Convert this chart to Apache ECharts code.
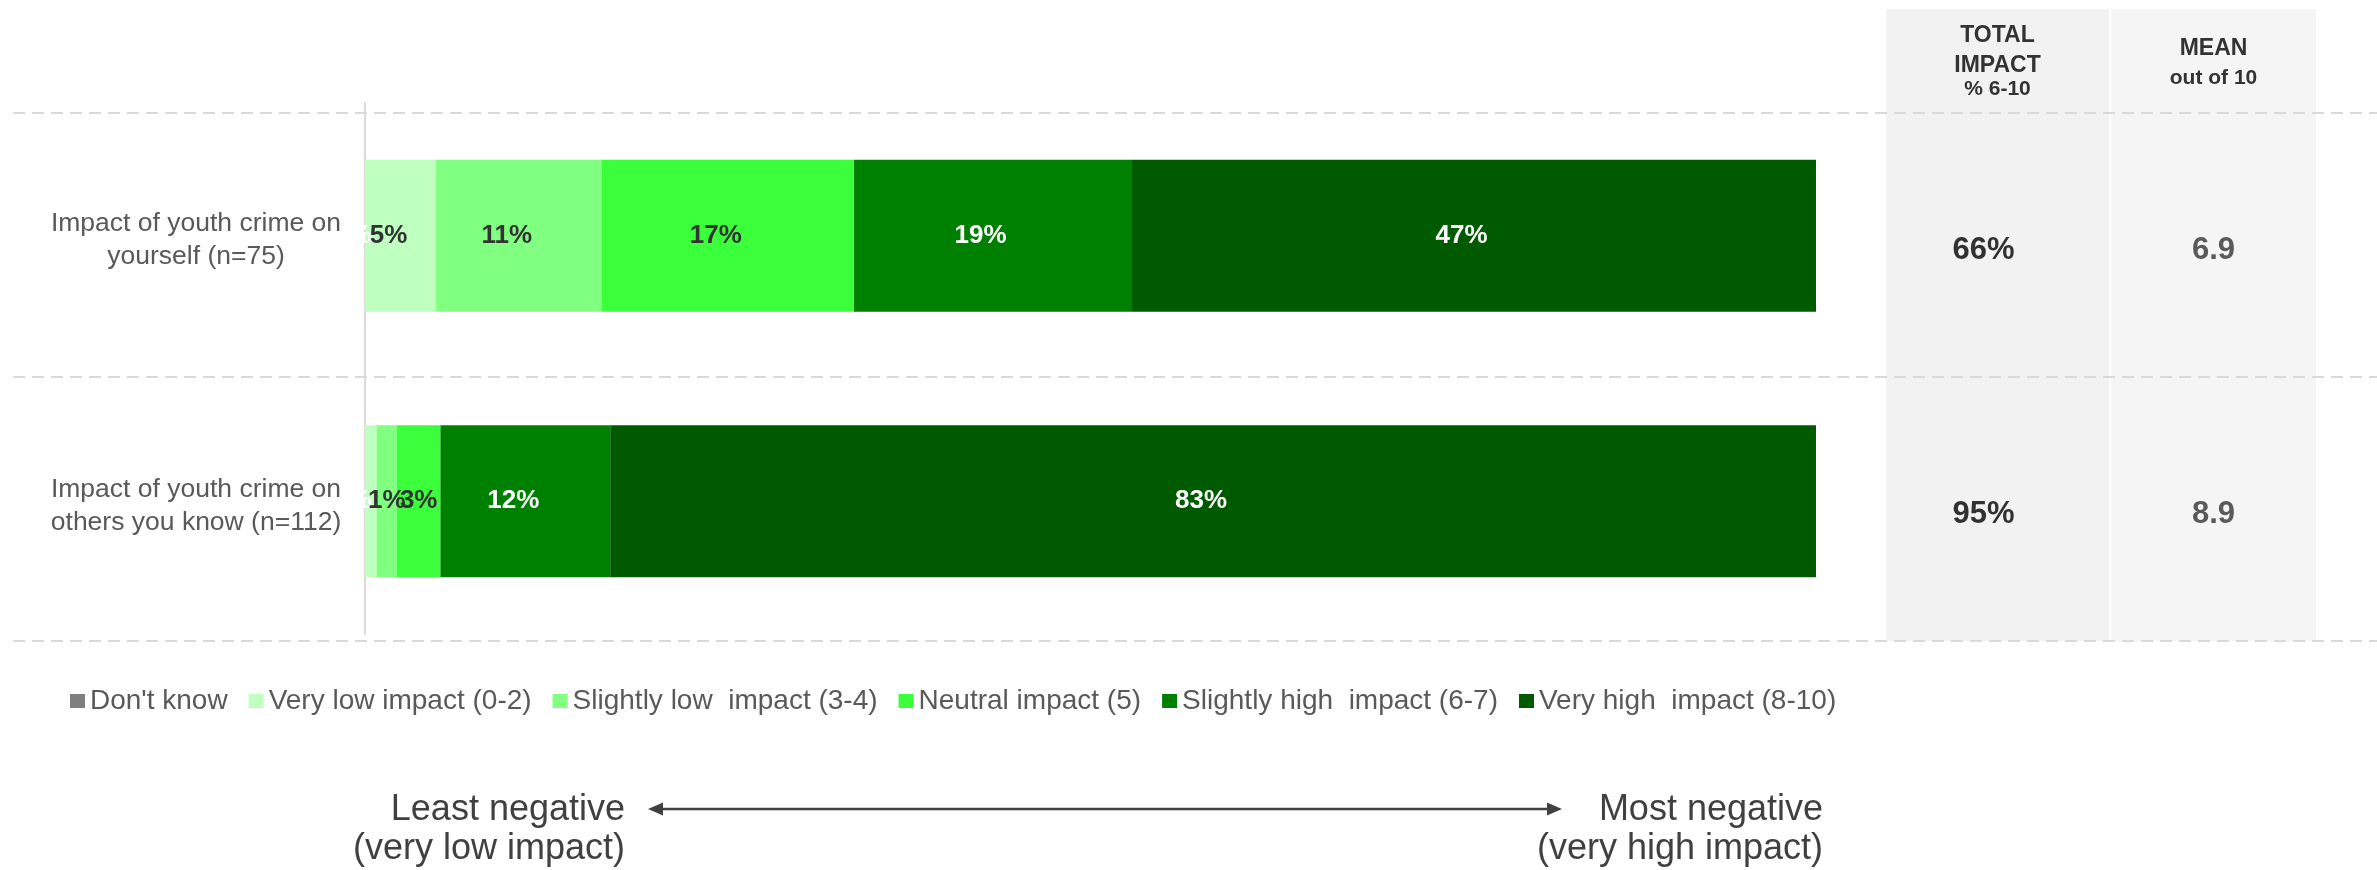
<!DOCTYPE html>
<html><head><meta charset="utf-8">
<script src="https://cdn.jsdelivr.net/npm/echarts@6/dist/echarts.min.js"></script>
<style>html,body{margin:0;padding:0;background:#fff}#c{width:2377px;height:870px}</style>
</head><body><div id="c"></div>
<script>
// ---- data ----
const categories = ['Impact of youth crime on\nyourself (n=75)', 'Impact of youth crime on\nothers you know (n=112)'];
const seriesNames = ["Don't know", 'Very low impact (0-2)', 'Slightly low  impact (3-4)', 'Neutral impact (5)', 'Slightly high  impact (6-7)', 'Very high  impact (8-10)'];
const dontKnow = [0, 0];
const veryLow = [4.9, 0.8];
const slightlyLow = [11.4, 1.4];
const neutral = [17.4, 3.0];
const slightlyHigh = [19.1, 11.7];
const veryHigh = [47.2, 83.1];
const tableColumns = ['TOTAL IMPACT', 'MEAN'];
const totalImpact = [66, 95];
const meanScore = [6.9, 8.9];

// ---- styles ----
const FONT = 'Liberation Sans, Arial, Helvetica, sans-serif';
const colors = ['#7f7f7f', '#bfffbf', '#80ff80', '#3cff3c', '#008000', '#005a00'];
const labelColors = ['#ffffff', '#333333', '#333333', '#333333', '#ffffff', '#ffffff'];
const values = [dontKnow, veryLow, slightlyLow, neutral, slightlyHigh, veryHigh];

const barSeries = seriesNames.map((name, s) => ({
  name, type: 'bar', stack: 'total', xAxisIndex: 0, yAxisIndex: 0, barWidth: 152,
  itemStyle: { color: colors[s] },
  emphasis: { disabled: true },
  label: {
    show: true, position: 'inside', offset: [-12, 0], color: labelColors[s],
    fontSize: 26, fontWeight: 'bold', fontFamily: FONT,
    formatter: p => Math.round(p.value) + '%'
  },
  data: values[s].map((v, i) => {
    const item = { value: v };
    if (i === 1 && s === 1) item.label = { show: false };
    if (i === 1 && (s === 2 || s === 3)) item.label = { offset: [0, 0] };
    return item;
  })
}));

const tableSeries = [
  {
    type: 'scatter', xAxisIndex: 4, yAxisIndex: 4, symbolSize: 0, silent: true,
    data: categories.map((c, i) => [tableColumns[0], c, totalImpact[i]]),
    label: { show: true, position: 'inside', offset: [-10, 5], formatter: p => p.value[2] + '%',
      fontSize: 31, fontWeight: 'bold', color: '#000000', fontFamily: FONT }
  },
  {
    type: 'scatter', xAxisIndex: 4, yAxisIndex: 4, symbolSize: 0, silent: true,
    data: categories.map((c, i) => [tableColumns[1], c, meanScore[i]]),
    label: { show: true, position: 'inside', offset: [5, 5], formatter: p => p.value[2].toFixed(1),
      fontSize: 31, fontWeight: 'bold', color: '#333333', fontFamily: FONT }
  }
];

const hidden = { show: false };
const option = {
  animation: false,
  backgroundColor: '#ffffff',
  grid: [
    { left: 365, right: 561, top: 103, bottom: 236 },
    { left: 13, right: 0, top: 113, bottom: 229 },
    { left: 1886, width: 223, top: 9, bottom: 229, show: true, backgroundColor: '#f2f2f2', borderWidth: 0 },
    { left: 2111, width: 205, top: 9, bottom: 229, show: true, backgroundColor: '#f5f5f5', borderWidth: 0 },
    { left: 1886, width: 430, top: 113, bottom: 229 },
    { left: 365, right: 561, top: 107.5, bottom: 231.5 }
  ],
  xAxis: [
    { gridIndex: 0, type: 'value', min: 0, max: 100, show: false },
    { gridIndex: 1, type: 'value', show: false },
    { gridIndex: 2, type: 'value', show: false },
    { gridIndex: 3, type: 'value', show: false },
    { gridIndex: 4, type: 'category', data: tableColumns, show: false },
    { gridIndex: 5, type: 'value', show: false }
  ],
  yAxis: [
    { gridIndex: 0, type: 'category', data: categories, inverse: true,
      axisLine: { show: true, lineStyle: { color: '#d9d9d9', width: 2 } },
      axisTick: hidden, splitLine: hidden, axisLabel: hidden },
    { gridIndex: 1, type: 'category', data: categories, inverse: true, z: 5,
      axisLine: hidden, axisTick: hidden, axisLabel: hidden,
      splitLine: { show: true, lineStyle: { type: [12, 7], color: '#d9d9d9', width: 2 } } },
    { gridIndex: 2, type: 'value', show: false },
    { gridIndex: 3, type: 'value', show: false },
    { gridIndex: 4, type: 'category', data: categories, inverse: true, show: false },
    { gridIndex: 5, type: 'category', data: categories, inverse: true, z: 20,
      axisLine: hidden, axisTick: hidden, splitLine: hidden,
      axisLabel: { show: true, align: 'center', margin: 169, fontSize: 26.5, lineHeight: 33,
        color: '#595959', fontFamily: FONT } }
  ],
  legend: {
    left: 65, top: 682, icon: 'rect', itemWidth: 15, itemHeight: 14, itemGap: 21,
    selectedMode: false, data: seriesNames,
    textStyle: { fontSize: 28, color: '#595959', fontFamily: FONT }
  },
  graphic: [
    { type: 'text', x: 1997.5, y: 36, style: { text: 'TOTAL', font: 'bold 23px ' + FONT, fill: '#333333', align: 'center', verticalAlign: 'middle' } },
    { type: 'text', x: 1997.5, y: 66, style: { text: 'IMPACT', font: 'bold 23px ' + FONT, fill: '#333333', align: 'center', verticalAlign: 'middle' } },
    { type: 'text', x: 1997.5, y: 89, style: { text: '% 6-10', font: 'bold 21px ' + FONT, fill: '#333333', align: 'center', verticalAlign: 'middle' } },
    { type: 'text', x: 2213.5, y: 49, style: { text: 'MEAN', font: 'bold 23px ' + FONT, fill: '#333333', align: 'center', verticalAlign: 'middle' } },
    { type: 'text', x: 2213.5, y: 78, style: { text: 'out of 10', font: 'bold 21px ' + FONT, fill: '#333333', align: 'center', verticalAlign: 'middle' } },
    { type: 'text', x: 625, y: 810, style: { text: 'Least negative', font: '36px ' + FONT, fill: '#404040', align: 'right', verticalAlign: 'middle' } },
    { type: 'text', x: 625, y: 849, style: { text: '(very low impact)', font: '36px ' + FONT, fill: '#404040', align: 'right', verticalAlign: 'middle' } },
    { type: 'text', x: 1823, y: 810, style: { text: 'Most negative', font: '36px ' + FONT, fill: '#404040', align: 'right', verticalAlign: 'middle' } },
    { type: 'text', x: 1823, y: 849, style: { text: '(very high impact)', font: '36px ' + FONT, fill: '#404040', align: 'right', verticalAlign: 'middle' } },
    { type: 'line', shape: { x1: 660, y1: 809, x2: 1550, y2: 809 }, style: { stroke: '#404040', lineWidth: 2.5 } },
    { type: 'polygon', shape: { points: [[648, 809], [663, 802.5], [663, 815.5]] }, style: { fill: '#404040' } },
    { type: 'polygon', shape: { points: [[1562, 809], [1547, 802.5], [1547, 815.5]] }, style: { fill: '#404040' } }
  ],
  series: barSeries.concat(tableSeries)
};

const chart = echarts.init(document.getElementById('c'), null, { renderer: 'canvas' });
chart.setOption(option);
</script>
</body></html>
